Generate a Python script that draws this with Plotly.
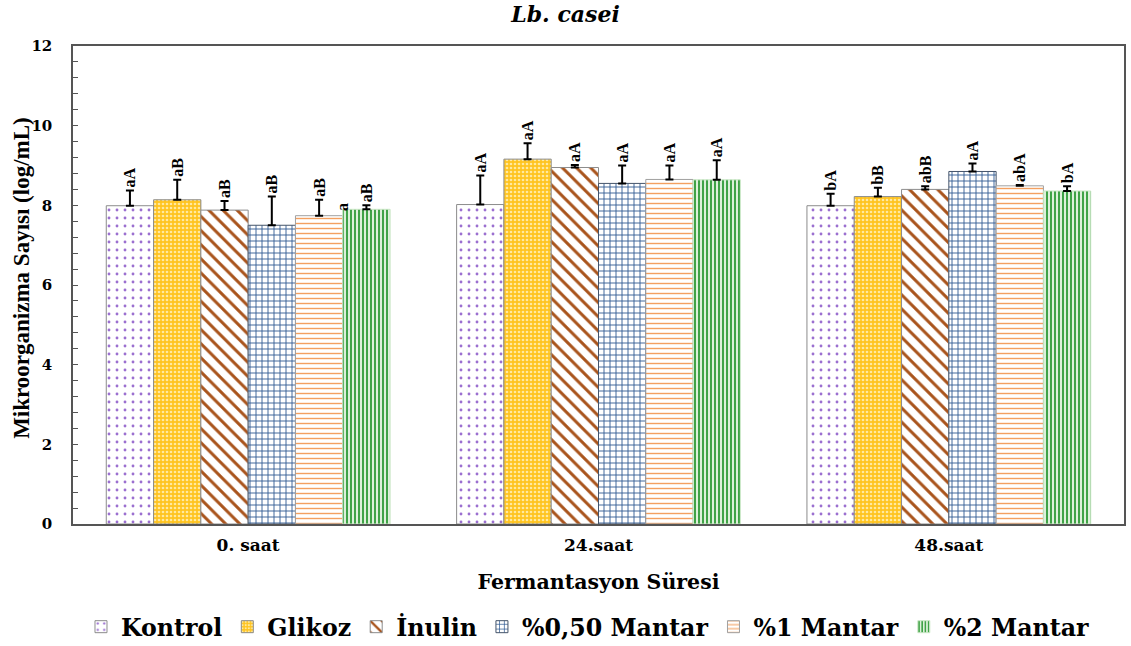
import plotly.graph_objects as go

categories = ["0. saat", "24.saat", "48.saat"]
series_names = ["Kontrol", "Glikoz", "İnulin", "%0,50 Mantar", "%1 Mantar", "%2 Mantar"]

kontrol = [7.99, 8.02, 7.99]
glikoz = [8.14, 9.16, 8.22]
inulin = [7.88, 8.95, 8.40]
mantar050 = [7.50, 8.55, 8.85]
mantar1 = [7.74, 8.65, 8.49]
mantar2 = [7.90, 8.64, 8.36]

err_kontrol = [0.38, 0.73, 0.30]
err_glikoz = [0.50, 0.40, 0.22]
err_inulin = [0.23, 0.06, 0.08]
err_mantar050 = [0.72, 0.45, 0.20]
err_mantar1 = [0.40, 0.35, 0.02]
err_mantar2 = [0.10, 0.49, 0.12]

lbl_kontrol = ["aA", "aA", "bA"]
lbl_glikoz = ["aB", "aA", "bB"]
lbl_inulin = ["aB", "aA", "abB"]
lbl_mantar050 = ["aB", "aA", "aA"]
lbl_mantar1 = ["aB", "aA", "abA"]
lbl_mantar2 = ["aB", "aA", "bA"]

values = [kontrol, glikoz, inulin, mantar050, mantar1, mantar2]
errors = [err_kontrol, err_glikoz, err_inulin, err_mantar050, err_mantar1, err_mantar2]
labels = [lbl_kontrol, lbl_glikoz, lbl_inulin, lbl_mantar050, lbl_mantar1, lbl_mantar2]

styles = [
    dict(shape=".", fgcolor="#9B6FD0", bgcolor="#FFFFFF", size=8, solidity=0.1, line="#8C8C8C"),
    dict(shape=".", fgcolor="#FFE9A0", bgcolor="#FFC41F", size=4, solidity=0.35, line="#8C8C8C"),
    dict(shape="\\", fgcolor="#A9541C", bgcolor="#FFFFFF", size=10, solidity=0.3, line="#8C8C8C"),
    dict(shape="+", fgcolor="#2F5A93", bgcolor="#FFFFFF", size=6, solidity=0.28, line="#44546A"),
    dict(shape="-", fgcolor="#F4A060", bgcolor="#FFFFFF", size=5, solidity=0.28, line="#A0A0A0"),
    dict(shape="|", fgcolor="#2E9A36", bgcolor="#DDF0DA", size=4, solidity=0.45, line="#C8E6C4"),
]

serif = "Liberation Serif, Times New Roman, serif"
wide = "DejaVu Serif, serif"

fig = go.Figure()
for i, name in enumerate(series_names):
    st = styles[i]
    fig.add_trace(go.Bar(
        name=name, x=categories, y=values[i], offsetgroup=str(i),
        marker=dict(color=st["bgcolor"], line=dict(color=st["line"], width=1),
                    pattern=dict(shape=st["shape"], fgcolor=st["fgcolor"], bgcolor=st["bgcolor"],
                                 size=st["size"], solidity=st["solidity"], fillmode="replace")),
        error_y=dict(type="data", symmetric=False, array=errors[i], arrayminus=[0] * 3,
                     color="black", thickness=2, width=4),
    ))
for i, name in enumerate(series_names):
    tops = [v + e for v, e in zip(values[i], errors[i])]
    fig.add_trace(go.Bar(
        x=categories, y=[0.0001] * 3, base=tops, offsetgroup=str(i), showlegend=False,
        marker=dict(color="rgba(0,0,0,0)", line=dict(width=0)),
        text=labels[i], textposition="outside", textangle=-90, constraintext="none",
        cliponaxis=False, hoverinfo="skip",
        textfont=dict(family=serif, size=16, color="black", weight="bold"),
    ))

fig.add_annotation(x=0.27, y=7.95, xref="x", yref="y", text="<b>a</b>", textangle=-90,
                   showarrow=False, font=dict(family=serif, size=16, color="black"))

# y-axis title placed as a rotated annotation just left of the tick labels
fig.add_annotation(x=-0.0485, y=0.515, xref="paper", yref="paper", xanchor="center", yanchor="middle",
                   text="<b>Mikroorganizma Sayısı (log/mL)</b>", textangle=-90, showarrow=False,
                   font=dict(family=serif, size=23, color="black"))

fig.update_layout(
    width=1131, height=646,
    margin=dict(l=73, r=7, t=46, b=122, autoexpand=False),
    paper_bgcolor="white", plot_bgcolor="white",
    barmode="group", bargap=0.19, bargroupgap=0,
    title=dict(text="<b><i>Lb. casei</i></b>", x=0.5, xanchor="center", y=0.978, yanchor="middle",
               font=dict(family=wide, size=22, color="black")),
    legend=dict(orientation="h", x=0.49, xanchor="center", y=-0.215, yanchor="middle",
                font=dict(family=wide, size=23.7, color="black", weight="bold"),
                itemwidth=30, traceorder="normal"),
    font=dict(family=serif, color="black"),
)
fig.update_xaxes(
    showline=True, linecolor="#555555", linewidth=1.5, mirror=True, ticks="",
    ticklabelstandoff=5, automargin=False,
    tickfont=dict(family=wide, size=17, color="black", weight="bold"),
    title=dict(text="<b>Fermantasyon Süresi</b>", font=dict(family=wide, size=20.5, color="black"),
               standoff=20),
)
fig.update_yaxes(
    range=[0, 12], dtick=2, showgrid=False, zeroline=False,
    showline=True, linecolor="#555555", linewidth=1.5, mirror=True,
    ticks="inside", ticklen=5, tickcolor="#555555", ticklabelstandoff=16, automargin=False,
    minor=dict(dtick=0.4, ticks="inside", ticklen=5, tickcolor="#555555", showgrid=False),
    tickfont=dict(family=wide, size=15, color="black", weight="bold"),
)

fig.write_html("out.html", config={"displayModeBar": False},
               post_script="document.body.style.margin='0px';")
